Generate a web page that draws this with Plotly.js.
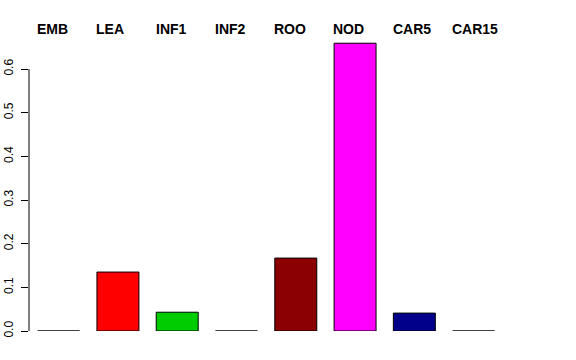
<!DOCTYPE html>
<html>
<head>
<meta charset="utf-8">
<script src="https://cdn.plot.ly/plotly-3.0.1.min.js"></script>
<style>html,body{margin:0;padding:0;background:#fff;}#chart{width:576px;height:360px;}</style>
</head>
<body>
<div id="chart"></div>
<script>
const categories = ["EMB", "LEA", "INF1", "INF2", "ROO", "NOD", "CAR5", "CAR15"];
const values = [0, 0.135, 0.043, 0, 0.167, 0.659, 0.041, 0];
const barColors = ["#000000", "#FF0000", "#00CD00", "#0000FF", "#8B0000", "#FF00FF", "#00008B", "#BEBEBE"];
const tickValues = [0, 0.1, 0.2, 0.3, 0.4, 0.5, 0.6];
const tickLabels = ["0.0", "0.1", "0.2", "0.3", "0.4", "0.5", "0.6"];

const font = "Liberation Sans, Arial, Helvetica, sans-serif";

const trace = {
  type: "bar",
  x: categories.map((c, i) => i),
  y: values,
  width: 0.708,
  marker: { color: barColors, line: { color: "#000000", width: 1 } },
  hoverinfo: "skip"
};

const annotations = categories.map((c, i) => ({
  x: i - 0.40,
  xref: "x",
  y: 1,
  yref: "paper",
  xanchor: "left",
  yanchor: "middle",
  yshift: 11,
  text: "<b>" + c + "</b>",
  showarrow: false,
  font: { family: font, size: 14, color: "#000000" }
}));

const layout = {
  width: 576,
  height: 360,
  margin: { l: 29, r: 49, t: 40, b: 29, pad: 0 },
  paper_bgcolor: "#ffffff",
  plot_bgcolor: "#ffffff",
  showlegend: false,
  font: { family: font, size: 12, color: "#000000" },
  xaxis: {
    range: [-0.5, 7.9],
    showticklabels: false,
    showgrid: false,
    zeroline: false,
    showline: false,
    ticks: "",
    fixedrange: true
  },
  yaxis: {
    range: [0, 0.6664],
    tickvals: tickValues,
    ticktext: tickLabels,
    tickangle: -90,
    ticks: "outside",
    ticklen: 7,
    tickwidth: 1,
    tickcolor: "#000000",
    ticklabelstandoff: 3,
    tickfont: { family: font, size: 12, color: "#000000" },
    showgrid: false,
    zeroline: false,
    showline: false,
    fixedrange: true
  },
  shapes: [{
    type: "line",
    xref: "paper", x0: 0, x1: 0,
    yref: "y", y0: tickValues[0], y1: tickValues[tickValues.length - 1],
    line: { color: "#000000", width: 1 }
  }],
  annotations: annotations,
  bargap: 0
};

Plotly.newPlot("chart", [trace], layout, { displayModeBar: false, staticPlot: true });
</script>
</body>
</html>
